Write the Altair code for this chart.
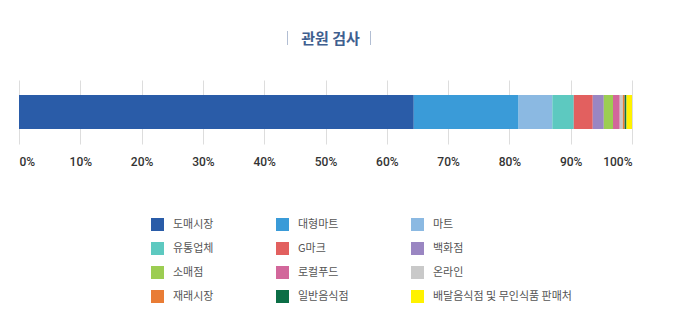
import altair as alt
import pandas as pd

categories = ["도매시장", "대형마트", "마트", "유통업체", "G마크", "백화점",
              "소매점", "로컬푸드", "온라인", "재래시장", "일반음식점", "배달음식점 및 무인식품 판매처"]
values = [64.4, 17.1, 5.5, 3.5, 3.1, 1.8, 1.5, 1.1, 0.5, 0.3, 0.3, 0.9]
colors = ["#2A5CA8", "#3A9BD8", "#8BB9E2", "#5DC9C0", "#E2605F", "#9A86C2",
          "#9CCD52", "#D2679B", "#C9C9C9", "#E97C35", "#0C6E46", "#FFF200"]
ticks = list(range(0, 101, 10))

df = pd.DataFrame({"category": categories, "value": values, "order": list(range(len(categories)))})

bar = alt.Chart(df).mark_bar(size=34).encode(
    x=alt.X("value:Q", stack="zero",
            scale=alt.Scale(domain=[0, 100], nice=False),
            axis=alt.Axis(values=ticks, labelExpr="datum.value + '%'", grid=True,
                          gridColor="#DDDDDD", gridWidth=1, domain=False, ticks=False,
                          title=None, labelPadding=12, labelFont="Roboto",
                          labelFontWeight=500, labelFontSize=12, labelColor="#333333")),
    color=alt.Color("category:N", sort=categories,
                    scale=alt.Scale(domain=categories, range=colors),
                    legend=alt.Legend(orient="none", legendX=132, legendY=138, columns=3,
                                      direction="horizontal",
                                      title=None, symbolType="square", symbolSize=169,
                                      symbolStrokeWidth=0, symbolOpacity=1,
                                      labelFont="Noto Sans CJK KR", labelFontSize=11,
                                      labelColor="#555555", labelOffset=9,
                                      columnPadding=62, rowPadding=11, padding=0,
                                      labelLimit=300)),
    order=alt.Order("order:Q"),
)

left_bar = alt.Chart(df).mark_rule(color="#B2BED3", strokeWidth=1).encode(
    x=alt.value(268.5), y=alt.value(-49), y2=alt.value(-35))
right_bar = alt.Chart(df).mark_rule(color="#B2BED3", strokeWidth=1).encode(
    x=alt.value(351.5), y=alt.value(-49), y2=alt.value(-35))

chart = alt.layer(bar, left_bar, right_bar).properties(
    width=613, height=64,
    title=alt.TitleParams("관원 검사", font="Noto Sans CJK KR", fontSize=15, fontWeight="bold",
                          color="#3F5F8F", anchor="middle", offset=0, dx=5, dy=16),
    autosize="none",
    padding={"left": 19, "top": 80, "right": 48, "bottom": 184},
).configure_view(stroke=None)

chart.save("out.html", embed_options={"renderer": "svg", "actions": False})
